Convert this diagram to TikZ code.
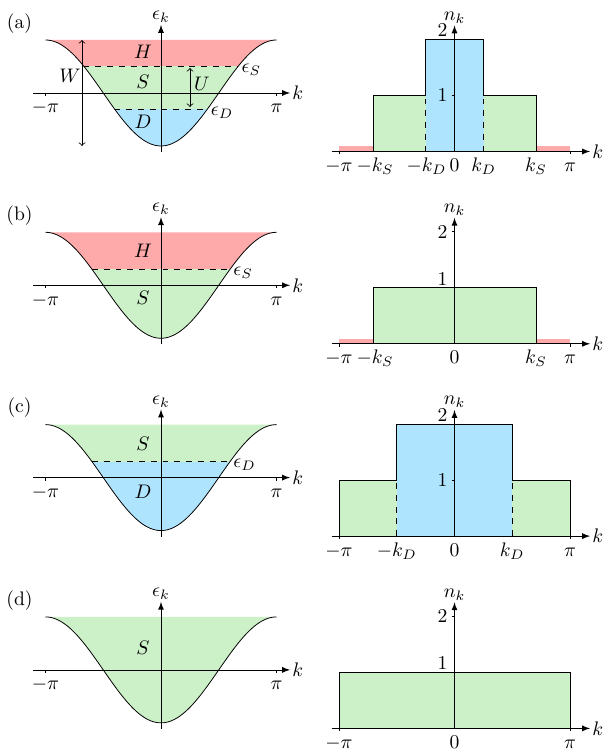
\documentclass[tikz,border=0pt]{standalone}
\definecolor{hcol}{RGB}{255,170,170}
\definecolor{scol}{RGB}{204,240,200}
\definecolor{dcol}{RGB}{175,228,255}
\begin{document}
\begin{tikzpicture}[x=0.51pt,y=0.51pt,
	ax/.style={-latex},
	lev/.style={dashed},
	dbl/.style={<->},
	klab/.style={anchor=base},
	lvlab/.style={anchor=west, inner sep=1.5pt, yshift=-1.8pt},
	tip/.style={inner sep=1pt}
]
\useasboundingbox (0,0) rectangle (603,752);

% (a) band
\begin{scope}[shift={(161,659)}]
\begin{scope}
\clip plot[domain=-115.5:115.5,samples=80] (\x,{-53*cos(\x/115.5*180)}) -- cycle;
\fill[hcol] (-116,27) rectangle (116,54);
\fill[scol] (-116,-16) rectangle (116,27);
\fill[dcol] (-116,-54) rectangle (116,-16);
\end{scope}
\draw plot[domain=-115.5:115.5,samples=80] (\x,{-53*cos(\x/115.5*180)});
\draw[lev] ({-115.5*acos(-27/53)/180},27) -- ({115.5*acos(-27/53)/180},27) node[lvlab] (esa) {$\epsilon_S$};
\draw[lev] ({-115.5*acos(16/53)/180},-16) -- ({115.5*acos(16/53)/180},-16) node[lvlab] (eda) {$\epsilon_D$};
\draw[ax] (-128,0) -- (129,0) node[right,tip] (kla) {$k$};
\draw[ax] (0,-59) -- (0,68) node[above,tip] (epa) {$\epsilon_k$};
\foreach \x in {-115.5,115.5} \draw (\x,0) -- (\x,-3);
\node[klab] (mpa) at (-115.5,-20) {$-\pi$};
\node[klab] (ppa) at (115.5,-20) {$\pi$};
\draw[dbl] (-79,53) -- (-79,-53);
\node (wa) at (-91,17) {$W$};
\draw[dbl] (29,25) -- (29,-14);
\node (ua) at (41,9) {$U$};
\node (ha) at (-18,41) {$H$};
\node (sa) at (-18,11) {$S$};
\node (da) at (-18,-29) {$D$};
\node (la) at (-141.5,69.5) {(a)};
\end{scope}

% (a) occupation
\begin{scope}[shift={(454.5,600.5)}]
\fill[hcol] (-115.5,0) rectangle (-81.5,5);
\fill[hcol] (81.5,0) rectangle (115.5,5);
\fill[scol] (-81.5,0) rectangle (81.5,56);
\fill[dcol] (-29,0) rectangle (29,112);
\draw (-81.5,0) -- (-81.5,56) -- (-29,56) -- (-29,112) -- (29,112) -- (29,56) -- (81.5,56) -- (81.5,0);
\draw[lev] (-29,0) -- (-29,56) (29,0) -- (29,56);
\draw[ax] (-123,0) -- (135.5,0) node[right,tip] (kra) {$k$};
\draw[ax] (0,0) -- (0,126) node[above,tip] (nka) {$n_k$};
\foreach \x in {-115.5,115.5} \draw (\x,0) -- (\x,-3);
\foreach \y in {56,112} \draw (-3,\y) -- (0,\y);
\node (onea) at (-12,56) {$1$};
\node (twoa) at (-12,121) {$2$};
\foreach \x/\t [count=\i] in {-115.5/-\pi,-79.5/-k_S,-28/-k_D,0/0,29/k_D,81.5/k_S,115.5/\pi}
	\node[klab] (ta\i) at (\x,-20) {$\t$};
\end{scope}

% (b) band
\begin{scope}[shift={(161,466.7)}]
\begin{scope}
\clip plot[domain=-115.5:115.5,samples=80] (\x,{-53*cos(\x/115.5*180)}) -- cycle;
\fill[hcol] (-116,16) rectangle (116,54);
\fill[scol] (-116,-54) rectangle (116,16);
\end{scope}
\draw plot[domain=-115.5:115.5,samples=80] (\x,{-53*cos(\x/115.5*180)});
\draw[lev] ({-115.5*acos(-16/53)/180},16) -- ({115.5*acos(-16/53)/180},16) node[lvlab] (esb) {$\epsilon_S$};
\draw[ax] (-128,0) -- (129,0) node[right,tip] (klb) {$k$};
\draw[ax] (0,-59) -- (0,68) node[above,tip] (epb) {$\epsilon_k$};
\foreach \x in {-115.5,115.5} \draw (\x,0) -- (\x,-3);
\node[klab] (mpb) at (-115.5,-20) {$-\pi$};
\node[klab] (ppb) at (115.5,-20) {$\pi$};
\node (hb) at (-18,34) {$H$};
\node (sb) at (-18,-13) {$S$};
\node (lb) at (-141.5,69.5) {(b)};
\end{scope}

% (b) occupation
\begin{scope}[shift={(454.5,408.2)}]
\fill[hcol] (-115.5,0) rectangle (-81.5,5);
\fill[hcol] (81.5,0) rectangle (115.5,5);
\fill[scol] (-81.5,0) rectangle (81.5,56);
\draw (-81.5,0) -- (-81.5,56) -- (81.5,56) -- (81.5,0);
\draw[ax] (-123,0) -- (135.5,0) node[right,tip] (krb) {$k$};
\draw[ax] (0,0) -- (0,126) node[above,tip] (nkb) {$n_k$};
\foreach \x in {-115.5,115.5} \draw (\x,0) -- (\x,-3);
\foreach \y in {56,112} \draw (-3,\y) -- (0,\y);
\node (oneb) at (-12,65) {$1$};
\node (twob) at (-12,112) {$2$};
\foreach \x/\t [count=\i] in {-115.5/-\pi,-79.5/-k_S,0/0,81.5/k_S,115.5/\pi}
	\node[klab] (tb\i) at (\x,-20) {$\t$};
\end{scope}

% (c) band
\begin{scope}[shift={(161,274.4)}]
\begin{scope}
\clip plot[domain=-115.5:115.5,samples=80] (\x,{-53*cos(\x/115.5*180)}) -- cycle;
\fill[scol] (-116,16) rectangle (116,54);
\fill[dcol] (-116,-54) rectangle (116,16);
\end{scope}
\draw plot[domain=-115.5:115.5,samples=80] (\x,{-53*cos(\x/115.5*180)});
\draw[lev] ({-115.5*acos(-16/53)/180},16) -- ({115.5*acos(-16/53)/180},16) node[lvlab] (edc) {$\epsilon_D$};
\draw[ax] (-128,0) -- (129,0) node[right,tip] (klc) {$k$};
\draw[ax] (0,-59) -- (0,68) node[above,tip] (epc) {$\epsilon_k$};
\foreach \x in {-115.5,115.5} \draw (\x,0) -- (\x,-3);
\node[klab] (mpc) at (-115.5,-20) {$-\pi$};
\node[klab] (ppc) at (115.5,-20) {$\pi$};
\node (sc) at (-18,34) {$S$};
\node (dc) at (-18,-14) {$D$};
\node (lc) at (-141.5,69.5) {(c)};
\end{scope}

% (c) occupation
\begin{scope}[shift={(454.5,215.9)}]
\fill[scol] (-115.5,0) rectangle (115.5,56);
\fill[dcol] (-57.7,0) rectangle (57.7,112);
\draw (-115.5,0) -- (-115.5,56) -- (-57.7,56) -- (-57.7,112) -- (57.7,112) -- (57.7,56) -- (115.5,56) -- (115.5,0);
\draw[lev] (-57.7,0) -- (-57.7,56) (57.7,0) -- (57.7,56);
\draw[ax] (-123,0) -- (135.5,0) node[right,tip] (krc) {$k$};
\draw[ax] (0,0) -- (0,126) node[above,tip] (nkc) {$n_k$};
\foreach \x in {-115.5,115.5} \draw (\x,0) -- (\x,-3);
\foreach \y in {56,112} \draw (-3,\y) -- (0,\y);
\node (onec) at (-12,56) {$1$};
\node (twoc) at (-12,121) {$2$};
\foreach \x/\t [count=\i] in {-115.5/-\pi,-57.7/-k_D,0/0,57.7/k_D,115.5/\pi}
	\node[klab] (tc\i) at (\x,-20) {$\t$};
\end{scope}

% (d) band
\begin{scope}[shift={(161,82.1)}]
\begin{scope}
\clip plot[domain=-115.5:115.5,samples=80] (\x,{-53*cos(\x/115.5*180)}) -- cycle;
\fill[scol] (-116,-54) rectangle (116,54);
\end{scope}
\draw plot[domain=-115.5:115.5,samples=80] (\x,{-53*cos(\x/115.5*180)});
\draw[ax] (-128,0) -- (129,0) node[right,tip] (kld) {$k$};
\draw[ax] (0,-59) -- (0,68) node[above,tip] (epd) {$\epsilon_k$};
\foreach \x in {-115.5,115.5} \draw (\x,0) -- (\x,-3);
\node[klab] (mpd) at (-115.5,-20) {$-\pi$};
\node[klab] (ppd) at (115.5,-20) {$\pi$};
\node (sd) at (-18,22) {$S$};
\node (ld) at (-141.5,69.5) {(d)};
\end{scope}

% (d) occupation
\begin{scope}[shift={(454.5,23.6)}]
\fill[scol] (-115.5,0) rectangle (115.5,56);
\draw (-115.5,0) -- (-115.5,56) -- (115.5,56) -- (115.5,0);
\draw[ax] (-123,0) -- (135.5,0) node[right,tip] (krd) {$k$};
\draw[ax] (0,0) -- (0,126) node[above,tip] (nkd) {$n_k$};
\foreach \x in {-115.5,115.5} \draw (\x,0) -- (\x,-3);
\foreach \y in {56,112} \draw (-3,\y) -- (0,\y);
\node (oned) at (-12,65) {$1$};
\node (twod) at (-12,112) {$2$};
\foreach \x/\t [count=\i] in {-115.5/-\pi,0/0,115.5/\pi}
	\node[klab] (td\i) at (\x,-20) {$\t$};
\end{scope}
\end{tikzpicture}
\end{document}
